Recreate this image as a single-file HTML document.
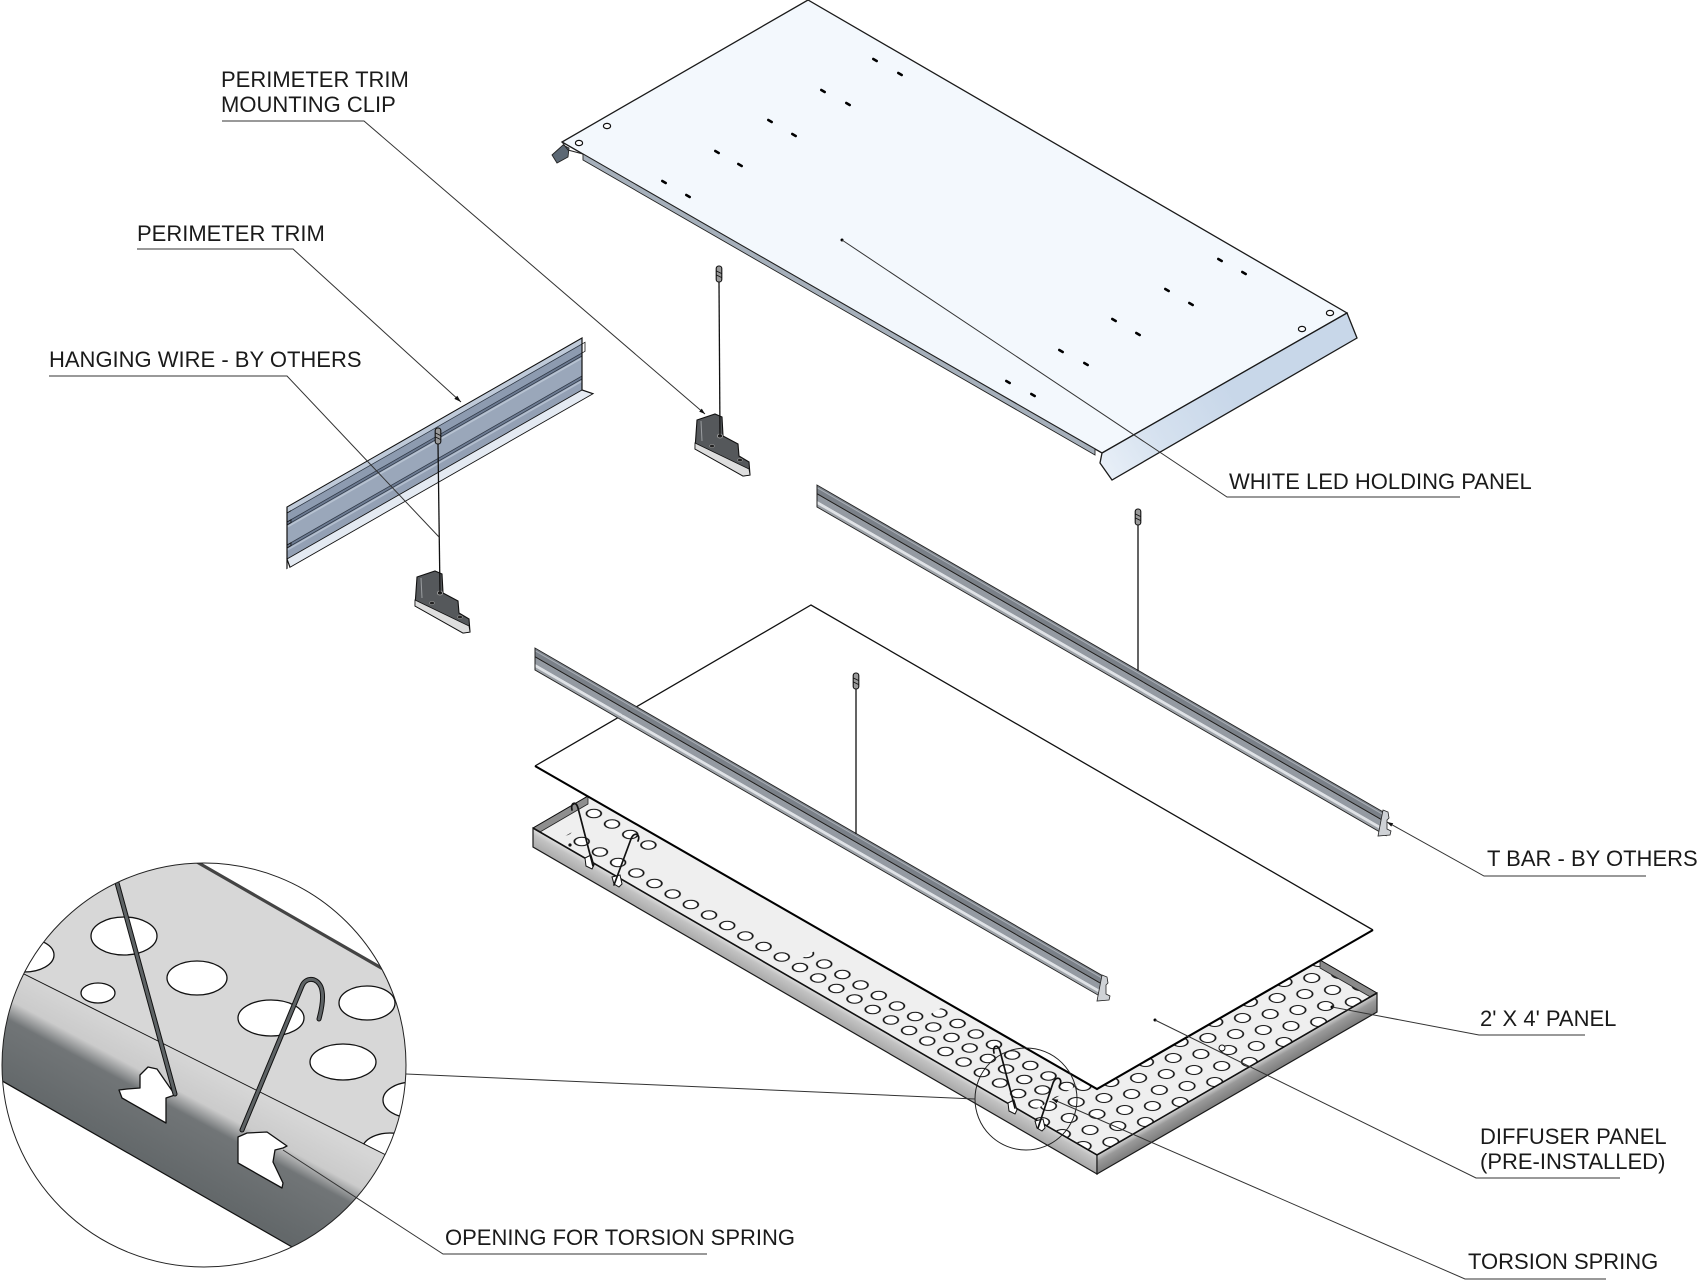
<!DOCTYPE html>
<html><head><meta charset="utf-8">
<style>
html,body{margin:0;padding:0;background:#fff;}
svg{display:block;}
text{font-family:"Liberation Sans",Arial,sans-serif;font-size:22px;fill:#1a1a1a;}
</style></head>
<body>
<svg width="1701" height="1280" viewBox="0 0 1701 1280" xmlns="http://www.w3.org/2000/svg">
<defs>
 <linearGradient id="bevel" gradientUnits="userSpaceOnUse" x1="1100" y1="470" x2="1230" y2="390">
  <stop offset="0" stop-color="#e9f0f8"/><stop offset="0.45" stop-color="#d5e1ef"/><stop offset="1" stop-color="#c8d7e9"/>
 </linearGradient>
 <linearGradient id="wallA" gradientUnits="userSpaceOnUse" x1="800" y1="982.9" x2="791.8" y2="997.1">
  <stop offset="0" stop-color="#dcdcdc"/><stop offset="0.3" stop-color="#c2c2c2"/><stop offset="1" stop-color="#a9a9a9"/>
 </linearGradient>
 <linearGradient id="wallB" gradientUnits="userSpaceOnUse" x1="1237" y1="1074" x2="1245.3" y2="1088.3">
  <stop offset="0" stop-color="#d2d2d2"/><stop offset="0.35" stop-color="#9a9a9a"/><stop offset="1" stop-color="#7c7c7c"/>
 </linearGradient>
 <linearGradient id="bubWall" gradientUnits="userSpaceOnUse" x1="150" y1="1037" x2="97" y2="1136">
  <stop offset="0" stop-color="#d6d6d6"/><stop offset="0.3" stop-color="#cbcbcb"/><stop offset="0.46" stop-color="#717577"/><stop offset="1" stop-color="#63686a"/>
 </linearGradient>
 <pattern id="holes" patternUnits="userSpaceOnUse" width="21" height="35">
  <g fill="#fff" stroke="#111" stroke-width="1.4">
   <circle cx="0" cy="0" r="6"/><circle cx="21" cy="0" r="6"/><circle cx="0" cy="35" r="6"/><circle cx="21" cy="35" r="6"/><circle cx="10.5" cy="17.5" r="6"/>
  </g>
 </pattern>
 <pattern id="holes2" patternUnits="userSpaceOnUse" width="24" height="40">
  <g fill="#fff" stroke="#111" stroke-width="1.4">
   <circle cx="0" cy="0" r="6.3"/><circle cx="24" cy="0" r="6.3"/><circle cx="0" cy="40" r="6.3"/><circle cx="24" cy="40" r="6.3"/><circle cx="12" cy="20" r="6.3"/>
  </g>
 </pattern>
 <clipPath id="floorClip"><polygon points="533,828 1097,1155 1377,993 1320,960 1097,1089 588,796"/></clipPath>
 <clipPath id="bub"><circle cx="204" cy="1065" r="202"/></clipPath>
 <g id="eye">
  <rect x="-2.8" y="0" width="5.6" height="16" rx="2.5" fill="#9a9a9a" stroke="#111" stroke-width="1.1"/>
  <path d="M-2.5,5 L2.5,7.5 M-2.5,9 L2.5,11.5" stroke="#111" stroke-width="0.9"/>
 </g>
 <g id="clipPart">
  <polygon points="417,577 435,571 442,574 443,593 458,601 459,613 469,619 470,632 463,633 415,606" fill="#55585b" stroke="#111" stroke-width="1.1"/>
  <polygon points="415,600 469,626 470,632 463,633 415,606" fill="#dedede" stroke="#111" stroke-width="0.8"/>
  <path d="M421,578 L422,598" stroke="#9a9da0" stroke-width="1"/>
  <ellipse cx="440" cy="593" rx="2.6" ry="2" fill="#222" stroke="#aaa" stroke-width="0.8"/>
  <ellipse cx="432" cy="603" rx="2.4" ry="1.6" fill="#222" stroke="#999" stroke-width="0.6"/>
  <ellipse cx="460" cy="617" rx="2.4" ry="1.6" fill="#222" stroke="#999" stroke-width="0.6"/>
 </g>
</defs>

<rect width="1701" height="1280" fill="#fff"/>

<!-- ===== WHITE LED HOLDING PANEL ===== -->
<polygon points="808,0 1347,313 1102,453 562,142" fill="#f3f8fd" stroke="#1a1a1a" stroke-width="1.3"/>
<polygon points="1347,313 1357,338 1112,480 1100,463 1102,453" fill="url(#bevel)" stroke="#1a1a1a" stroke-width="1.3"/>
<polygon points="583,154 1095,449 1095,455 583,160" fill="#a6b0bb" stroke="#222" stroke-width="0.9"/>
<polygon points="552,155 563,145 569,148 568,157 557,163" fill="#5c6874" stroke="#222" stroke-width="0.9"/>
<path d="M562,142 L568,150 L583,154" fill="none" stroke="#222" stroke-width="1"/>
<path d="M873.3,59 l3.4,2 M898.3,73 l3.4,2 M821.3,90 l3.4,2 M846.3,103 l3.4,2 M768.3,120 l3.4,2 M792.3,134 l3.4,2 M715.3,151 l3.4,2 M738.3,164 l3.4,2 M662.3,181 l3.4,2 M686.3,195 l3.4,2 M1218.3,259 l3.4,2 M1242.3,272 l3.4,2 M1165.3,289 l3.4,2 M1189.3,303 l3.4,2 M1112.3,319 l3.4,2 M1136.3,333 l3.4,2 M1059.3,350 l3.4,2 M1084.3,363 l3.4,2 M1006.3,381 l3.4,2 M1031.3,394 l3.4,2" stroke="#000" stroke-width="2.6" stroke-linecap="round"/>
<circle cx="842" cy="240" r="1.5" fill="#000"/>
<g fill="#fff" stroke="#111" stroke-width="1.2">
 <ellipse cx="607" cy="126" rx="3.6" ry="2.6"/><ellipse cx="579" cy="143" rx="3.6" ry="2.6"/>
 <ellipse cx="1330" cy="313" rx="3.6" ry="2.6"/><ellipse cx="1302" cy="329" rx="3.6" ry="2.6"/>
</g>

<!-- ===== PERIMETER TRIM ===== -->
<g transform="matrix(1,-0.5729,0,1,287,507)">
 <rect x="0" y="0" width="295" height="6" fill="#bfcad9"/>
 <rect x="0" y="6" width="295" height="9" fill="#8d9bb0"/>
 <rect x="0" y="15" width="295" height="3" fill="#6c7a91"/>
 <rect x="0" y="18" width="295" height="20" fill="#9aa7ba"/>
 <rect x="0" y="38" width="295" height="3" fill="#6e7c93"/>
 <rect x="0" y="41" width="295" height="11" fill="#93a0b4"/>
 <rect x="0" y="19" width="295" height="2" fill="#b7c2d1"/>
 <rect x="0" y="42" width="295" height="2" fill="#b3bece"/>
 <path d="M0,6H295 M0,15H295 M0,18H295 M0,38H295 M0,41H295" stroke="#2f3845" stroke-width="0.9"/>
 <polygon points="0,52 295,52 306,62 3,62" fill="#e4eaf2" stroke="#111" stroke-width="1"/>
 <path d="M0,62 V0 H295 V52" fill="none" stroke="#111" stroke-width="1.2"/>
 <path d="M0,6 h4 M0,15 h4 v3 h-4 M0,38 h4 v3 h-4 M295,6 h3 v9 h-3" fill="none" stroke="#111" stroke-width="0.8"/>
</g>

<!-- clips -->
<use href="#clipPart"/>
<use href="#clipPart" transform="translate(280,-157)"/>

<!-- ===== RIGHT T BAR ===== -->
<g transform="matrix(1,0.5774,0,1,817,485)">
 <rect x="0" y="0" width="569" height="8" fill="#7a8088"/>
 <rect x="0" y="2" width="569" height="1.2" fill="#a9aeb5"/>
 <rect x="0" y="8" width="569" height="1.5" fill="#222"/>
 <rect x="0" y="9.5" width="569" height="6.5" fill="#949aa2"/>
 <rect x="0" y="16" width="569" height="3" fill="#dfe2e6"/>
 <rect x="0" y="19" width="569" height="3" fill="#9ea3a9"/>
 <rect x="0" y="0" width="569" height="22" fill="none" stroke="#222" stroke-width="1"/>
</g>
<polygon points="1383,810 1388,812 1389,818 1387,820 1387,829 1391,831 1390,835 1378,836" fill="#cfd2d6" stroke="#222" stroke-width="0.8"/>

<!-- ===== 2'x4' PAN ===== -->
<polygon points="533,828 1097,1155 1097,1174 533,847" fill="url(#wallA)" stroke="#1a1a1a" stroke-width="1.2"/>
<polygon points="1097,1155 1377,993 1377,1012 1097,1174" fill="url(#wallB)" stroke="#1a1a1a" stroke-width="1.2"/>
<g clip-path="url(#floorClip)">
 <polygon points="533,828 1097,1155 1377,993 1320,960 1097,1089 588,796" fill="#efefef"/>
 <g transform="matrix(-0.866,-0.5,0.866,-0.5,1097,1174)">
  <rect x="0" y="0" width="100" height="340" fill="url(#holes2)"/>
  <rect x="100" y="27" width="545" height="16" fill="url(#holes)"/>
  <rect x="100" y="44.5" width="286" height="16" fill="url(#holes)"/>
  <rect x="100" y="62" width="156" height="16" fill="url(#holes)"/>
  <rect x="578" y="62" width="85" height="16" fill="url(#holes)"/>
 </g>
</g>
<polygon points="533,828 588,796 588,804 540,832" fill="#8e8e8e" stroke="#222" stroke-width="0.8"/>
<polygon points="1320,960 1377,993 1370.5,997 1320,968" fill="#8a8a8a" stroke="#222" stroke-width="0.8"/>
<path d="M533,828 L1097,1155 L1377,993" fill="none" stroke="#111" stroke-width="1.6"/>
<path d="M533,828 L588,796 M1320,960 L1377,993" fill="none" stroke="#111" stroke-width="1"/>
<circle cx="1222" cy="1048" r="3" fill="#fff" stroke="#111" stroke-width="1"/>

<!-- ===== DIFFUSER ===== -->
<polygon points="811,605 1373,930 1097,1089 535,766" fill="#fff"/>
<path d="M535,766 L811,605 L1373,930" fill="none" stroke="#111" stroke-width="1.3"/>
<path d="M535,766 L1097,1089 L1373,930" fill="none" stroke="#000" stroke-width="2.1"/>
<circle cx="1155" cy="1020" r="1.5" fill="#000"/>
<circle cx="1332" cy="1007" r="1.5" fill="#000"/>

<!-- ===== LEFT T BAR ===== -->
<g transform="matrix(1,0.5774,0,1,535,648)">
 <rect x="0" y="0" width="567" height="8" fill="#7a8088"/>
 <rect x="0" y="2" width="567" height="1.2" fill="#a9aeb5"/>
 <rect x="0" y="8" width="567" height="1.5" fill="#222"/>
 <rect x="0" y="9.5" width="567" height="6.5" fill="#949aa2"/>
 <rect x="0" y="16" width="567" height="3" fill="#dfe2e6"/>
 <rect x="0" y="19" width="567" height="3" fill="#9ea3a9"/>
 <rect x="0" y="0" width="567" height="22" fill="none" stroke="#222" stroke-width="1"/>
</g>
<polygon points="1102,975 1107,977 1108,983 1106,985 1106,994 1110,996 1109,1000 1097,1001" fill="#cfd2d6" stroke="#222" stroke-width="0.8"/>

<!-- ===== HANGING WIRES ===== -->
<g stroke="#111" stroke-width="1.3">
 <line x1="719" y1="282" x2="720" y2="436"/>
 <line x1="438" y1="444" x2="440" y2="593"/>
 <line x1="1138" y1="525" x2="1138" y2="671"/>
 <line x1="856" y1="689" x2="856" y2="834"/>
</g>
<use href="#eye" transform="translate(719,266)"/>
<use href="#eye" transform="translate(438,428)"/>
<use href="#eye" transform="translate(1138,509)"/>
<use href="#eye" transform="translate(856,673)"/>

<!-- ===== SMALL TORSION SPRINGS ON PAN ===== -->
<g fill="#fff" stroke="#111" stroke-width="1">
 <path d="M585,858 l6,-3 l3,10 l-2,4 l-6,-3 z"/>
 <path d="M612,877 l8,-2 l2,9 l-3,3 l-5,-3 z"/>
 <path d="M1008,1103 l6,-3 l3,10 l-2,4 l-6,-3 z"/>
 <path d="M1035,1121 l8,-2 l2,9 l-3,3 l-5,-3 z"/>
</g>
<g fill="none" stroke="#111" stroke-width="1.7" stroke-linecap="round">
 <path d="M593,866 L578,808 C576,800 570,803 572,810"/>
 <path d="M614,885 L631,839 C634,831 641,834 638,841"/>
 <path d="M1015,1108 L1000,1051 C998,1043 992,1046 994,1053"/>
 <path d="M1038,1128 L1053,1083 C1056,1075 1063,1078 1060,1085"/>
</g>
<circle cx="570" cy="845" r="1.6" fill="#111"/>
<circle cx="1026" cy="1099" r="51" fill="none" stroke="#222" stroke-width="1"/>

<!-- ===== LEADERS ===== -->
<g stroke="#333" stroke-width="1" fill="none">
 <path d="M222,121 H364 L705,414"/>
 <path d="M137,249 H293 L461,402"/>
 <path d="M49,376 H287 L439,537"/>
 <path d="M842,240 L1227,497 H1460"/>
 <path d="M1387,822 L1484,876 H1646"/>
 <path d="M1332,1007 L1479,1035 H1585"/>
 <path d="M1155,1020 L1476,1178 H1620"/>
 <path d="M1052,1099 L1465,1279 H1606"/>
 <path d="M406,1074 L975,1099"/>
 <path d="M283,1150 L443,1254 H707"/>
</g>
<g fill="#111">
 <polygon points="461,402 454.3,398.9 457.3,395.7"/>
 <polygon points="1387,822 1393.2,823.2 1391.2,826.6"/>
 <polygon points="705,414 699.2,411.6 701.8,408.6"/>
 <polygon points="1052,1099 1058.3,1099.6 1056.7,1103.2"/>
</g>

<!-- ===== DETAIL BUBBLE ===== -->
<g clip-path="url(#bub)">
 <rect x="0" y="860" width="410" height="412" fill="#fff"/>
 <polygon points="-10,743 430,995 430,1326 -10,1074" fill="#d7d7d7"/>
 <g fill="#fff" stroke="#111" stroke-width="1.3">
  <ellipse cx="124" cy="936" rx="33" ry="19"/>
  <ellipse cx="197" cy="978" rx="30" ry="17"/>
  <ellipse cx="98" cy="993" rx="17" ry="10"/>
  <ellipse cx="271" cy="1018" rx="33" ry="18"/>
  <ellipse cx="367" cy="1003" rx="28" ry="17"/>
  <ellipse cx="343" cy="1062" rx="33" ry="18"/>
  <ellipse cx="24" cy="955" rx="30" ry="17"/>
  <ellipse cx="413" cy="1100" rx="30" ry="18"/>
  <ellipse cx="390" cy="1150" rx="28" ry="17"/>
 </g>
 <polygon points="-10,957 430,1177 430,1326 -10,1074" fill="url(#bubWall)"/>
 <line x1="-10" y1="957" x2="430" y2="1177" stroke="#111" stroke-width="1"/>
 <line x1="-10" y1="1074" x2="430" y2="1326" stroke="#111" stroke-width="1.2"/>
 <line x1="150" y1="835" x2="430" y2="996" stroke="#444" stroke-width="3.2"/>
 <g fill="#fff" stroke="#111" stroke-width="1.3" stroke-linejoin="round">
  <polygon points="119,1090 122,1098 166,1123 166,1098 175,1095 157,1069 148,1067 140,1075 140,1088 127,1089"/>
  <polygon points="238,1137 247,1133 267,1132 287,1146 283,1148 275,1150 273,1162 283,1183 282,1188 238,1163"/>
 </g>
 <g fill="none" stroke-linecap="round" stroke-linejoin="round">
  <path d="M108,850 L175,1094" stroke="#111" stroke-width="5"/>
  <path d="M108,850 L175,1094" stroke="#5e6365" stroke-width="3"/>
  <path d="M242,1130 L302,986 C305,978 316,976 321,987 C324,995 322,1008 319,1019" stroke="#111" stroke-width="5"/>
  <path d="M242,1130 L302,986 C305,978 316,976 321,987 C324,995 322,1008 319,1019" stroke="#5e6365" stroke-width="3"/>
 </g>
 <path d="M283,1150 L443,1254" stroke="#333" stroke-width="1" fill="none"/>
</g>
<circle cx="204" cy="1065" r="202" fill="none" stroke="#222" stroke-width="1"/>

<!-- ===== LABELS ===== -->
<text x="221" y="87">PERIMETER TRIM</text>
<text x="221" y="112">MOUNTING CLIP</text>
<text x="137" y="241">PERIMETER TRIM</text>
<text x="49" y="367">HANGING WIRE - BY OTHERS</text>
<text x="1229" y="489">WHITE LED HOLDING PANEL</text>
<text x="1487" y="866">T BAR - BY OTHERS</text>
<text x="1480" y="1026">2' X 4' PANEL</text>
<text x="1480" y="1144">DIFFUSER PANEL</text>
<text x="1480" y="1169">(PRE-INSTALLED)</text>
<text x="1468" y="1269">TORSION SPRING</text>
<text x="445" y="1245">OPENING FOR TORSION SPRING</text>
</svg>
</body></html>
